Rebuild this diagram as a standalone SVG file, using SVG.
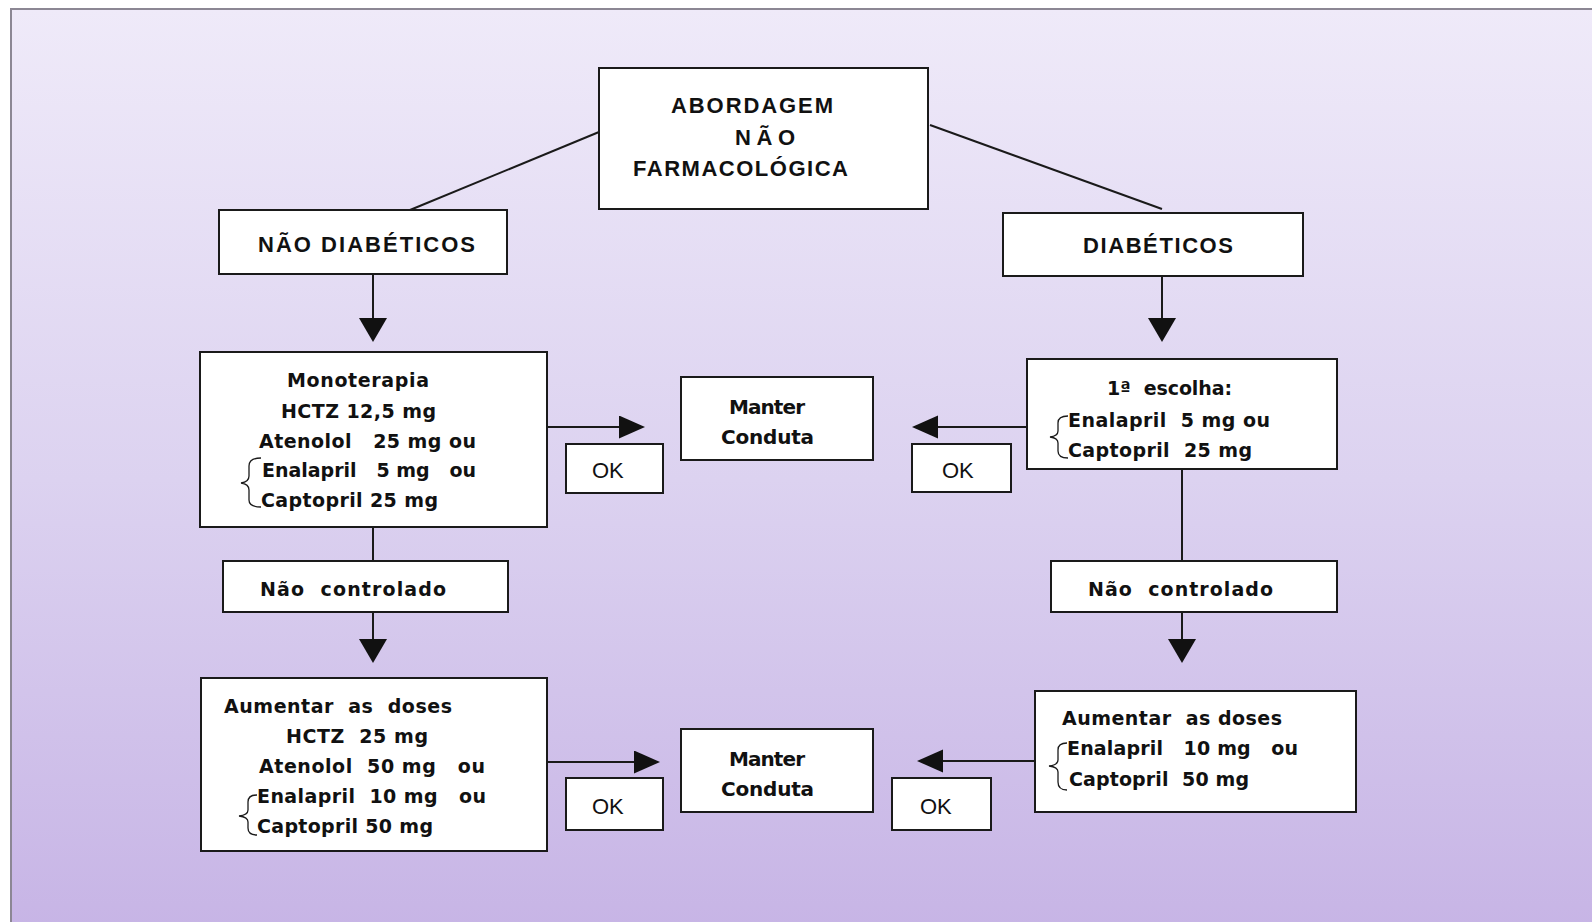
<svg xmlns="http://www.w3.org/2000/svg" width="1592" height="922" viewBox="0 0 1592 922">
<style>
.box{fill:#fff;stroke:#1a1a1a;stroke-width:2}
.ln{fill:none;stroke:#1a1a1a;stroke-width:2}
.br{fill:none;stroke:#1a1a1a;stroke-width:1.3}
.t{font-family:"DejaVu Sans",Verdana,sans-serif;font-weight:bold;font-size:19px;fill:#111}
.m{font-family:"DejaVu Sans",Verdana,sans-serif;font-weight:bold;font-size:20px;fill:#111}
.h{font-family:"Liberation Sans",Arial,sans-serif;font-weight:bold;font-size:22px;fill:#111}
.ok{font-family:"Liberation Sans",Arial,sans-serif;font-weight:normal;font-size:22px;fill:#111}
</style>
<defs>
<linearGradient id="bg" x1="0" y1="0" x2="0" y2="1">
<stop offset="0" stop-color="#EFEAF9"/>
<stop offset="0.5" stop-color="#DCD2F0"/>
<stop offset="1" stop-color="#C6B3E5"/>
</linearGradient>
<marker id="arrV" markerUnits="userSpaceOnUse" markerWidth="26" markerHeight="30" refX="14" refY="14" orient="auto" viewBox="0 0 26 30">
<path d="M0,0 L24,14 L0,28 z" fill="#111"/>
</marker>
<marker id="arrH" markerUnits="userSpaceOnUse" markerWidth="28" markerHeight="26" refX="16" refY="11.5" orient="auto" viewBox="0 0 28 26">
<path d="M0,0 L26,11.5 L0,23 z" fill="#111"/>
</marker>
</defs>
<rect x="0" y="0" width="1592" height="922" fill="#fff"/>
<rect x="11" y="9" width="1600" height="940" fill="url(#bg)" stroke="#8C8794" stroke-width="2"/>

<g id="connectors">
<path class="ln" d="M599,132 L410,210"/>
<path class="ln" d="M930,125 L1162,209"/>
<path class="ln" d="M373,274 L373,332" marker-end="url(#arrV)"/>
<path class="ln" d="M1162,276 L1162,332" marker-end="url(#arrV)"/>
<path class="ln" d="M547,427 L635,427" marker-end="url(#arrH)"/>
<path class="ln" d="M1027,427 L922,427" marker-end="url(#arrH)"/>
<path class="ln" d="M373,527 L373,561"/>
<path class="ln" d="M1182,469 L1182,561"/>
<path class="ln" d="M373,612 L373,653" marker-end="url(#arrV)"/>
<path class="ln" d="M1182,612 L1182,653" marker-end="url(#arrV)"/>
<path class="ln" d="M547,762 L650,762" marker-end="url(#arrH)"/>
<path class="ln" d="M1035,761 L927,761" marker-end="url(#arrH)"/>
</g>

<g id="abordagem">
<rect class="box" x="599" y="68" width="329" height="141"/>
<text class="h" x="671" y="113" textLength="162" lengthAdjust="spacing">ABORDAGEM</text>
<text class="h" x="735" y="145" textLength="60" lengthAdjust="spacing">NÃO</text>
<text class="h" x="633" y="176" textLength="215" lengthAdjust="spacing">FARMACOLÓGICA</text>
</g>

<g id="nao-diabeticos">
<rect class="box" x="219" y="210" width="288" height="64"/>
<text class="h" x="258" y="252" font-size="23" textLength="217" lengthAdjust="spacing">NÃO DIABÉTICOS</text>
</g>

<g id="diabeticos">
<rect class="box" x="1003" y="213" width="300" height="63"/>
<text class="h" x="1083" y="253" font-size="23" textLength="150" lengthAdjust="spacing">DIABÉTICOS</text>
</g>

<g id="monoterapia">
<rect class="box" x="200" y="352" width="347" height="175"/>
<text class="t" xml:space="preserve" x="287" y="387" textLength="142" lengthAdjust="spacing">Monoterapia</text>
<text class="t" xml:space="preserve" x="281" y="418" textLength="155" lengthAdjust="spacing">HCTZ 12,5 mg</text>
<text class="t" xml:space="preserve" x="259" y="448" textLength="217" lengthAdjust="spacing">Atenolol   25 mg ou</text>
<text class="t" xml:space="preserve" x="262" y="477" textLength="214" lengthAdjust="spacing">Enalapril   5 mg   ou</text>
<text class="t" xml:space="preserve" x="261" y="507" textLength="177" lengthAdjust="spacing">Captopril 25 mg</text>
<path class="br" d="M261,458 Q249,458 249,466 L249,476 Q249,482 241,483 Q249,484 249,490 L249,500 Q249,507 261,507"/>
</g>

<g id="ok1">
<rect class="box" x="566" y="444" width="97" height="49"/>
<text class="ok" x="592" y="478">OK</text>
</g>

<g id="manter1">
<rect class="box" x="681" y="377" width="192" height="83"/>
<text class="m" x="729" y="414" textLength="76" lengthAdjust="spacing">Manter</text>
<text class="m" x="721" y="444" textLength="93" lengthAdjust="spacing">Conduta</text>
</g>

<g id="ok2">
<rect class="box" x="912" y="444" width="99" height="48"/>
<text class="ok" x="942" y="478">OK</text>
</g>

<g id="escolha">
<rect class="box" x="1027" y="359" width="310" height="110"/>
<text class="t" xml:space="preserve" x="1107" y="395" textLength="125" lengthAdjust="spacing">1ª  escolha:</text>
<text class="t" xml:space="preserve" x="1068" y="427" textLength="202" lengthAdjust="spacing">Enalapril  5 mg ou</text>
<text class="t" xml:space="preserve" x="1068" y="457" textLength="184" lengthAdjust="spacing">Captopril  25 mg</text>
<path class="br" d="M1068,416 Q1058,416 1058,423 L1058,431 Q1058,436 1050,437 Q1058,438 1058,443 L1058,451 Q1058,458 1068,458"/>
</g>

<g id="nao-controlado-1">
<rect class="box" x="223" y="561" width="285" height="51"/>
<text class="t" xml:space="preserve" x="260" y="596" textLength="186" lengthAdjust="spacing">Não  controlado</text>
</g>

<g id="nao-controlado-2">
<rect class="box" x="1051" y="561" width="286" height="51"/>
<text class="t" xml:space="preserve" x="1088" y="596" textLength="185" lengthAdjust="spacing">Não  controlado</text>
</g>

<g id="aumentar1">
<rect class="box" x="201" y="678" width="346" height="173"/>
<text class="t" xml:space="preserve" x="224" y="713" textLength="228" lengthAdjust="spacing">Aumentar  as  doses</text>
<text class="t" xml:space="preserve" x="286" y="743" textLength="142" lengthAdjust="spacing">HCTZ  25 mg</text>
<text class="t" xml:space="preserve" x="259" y="773" textLength="226" lengthAdjust="spacing">Atenolol  50 mg   ou</text>
<text class="t" xml:space="preserve" x="257" y="803" textLength="229" lengthAdjust="spacing">Enalapril  10 mg   ou</text>
<text class="t" xml:space="preserve" x="257" y="833" textLength="176" lengthAdjust="spacing">Captopril 50 mg</text>
<path class="br" d="M257,795 Q248,795 248,802 L248,810 Q248,815 239,816 Q248,817 248,822 L248,828 Q248,835 257,835"/>
</g>

<g id="ok3">
<rect class="box" x="566" y="778" width="97" height="52"/>
<text class="ok" x="592" y="814">OK</text>
</g>

<g id="manter2">
<rect class="box" x="681" y="729" width="192" height="83"/>
<text class="m" x="729" y="766" textLength="76" lengthAdjust="spacing">Manter</text>
<text class="m" x="721" y="796" textLength="93" lengthAdjust="spacing">Conduta</text>
</g>

<g id="ok4">
<rect class="box" x="892" y="778" width="99" height="52"/>
<text class="ok" x="920" y="814">OK</text>
</g>

<g id="aumentar2">
<rect class="box" x="1035" y="691" width="321" height="121"/>
<text class="t" xml:space="preserve" x="1062" y="725" textLength="220" lengthAdjust="spacing">Aumentar  as doses</text>
<text class="t" xml:space="preserve" x="1067" y="755" textLength="231" lengthAdjust="spacing">Enalapril   10 mg   ou</text>
<text class="t" xml:space="preserve" x="1069" y="786" textLength="180" lengthAdjust="spacing">Captopril  50 mg</text>
<path class="br" d="M1067,743 Q1058,743 1058,750 L1058,760 Q1058,765 1049,766 Q1058,767 1058,772 L1058,782 Q1058,790 1067,790"/>
</g>
</svg>
